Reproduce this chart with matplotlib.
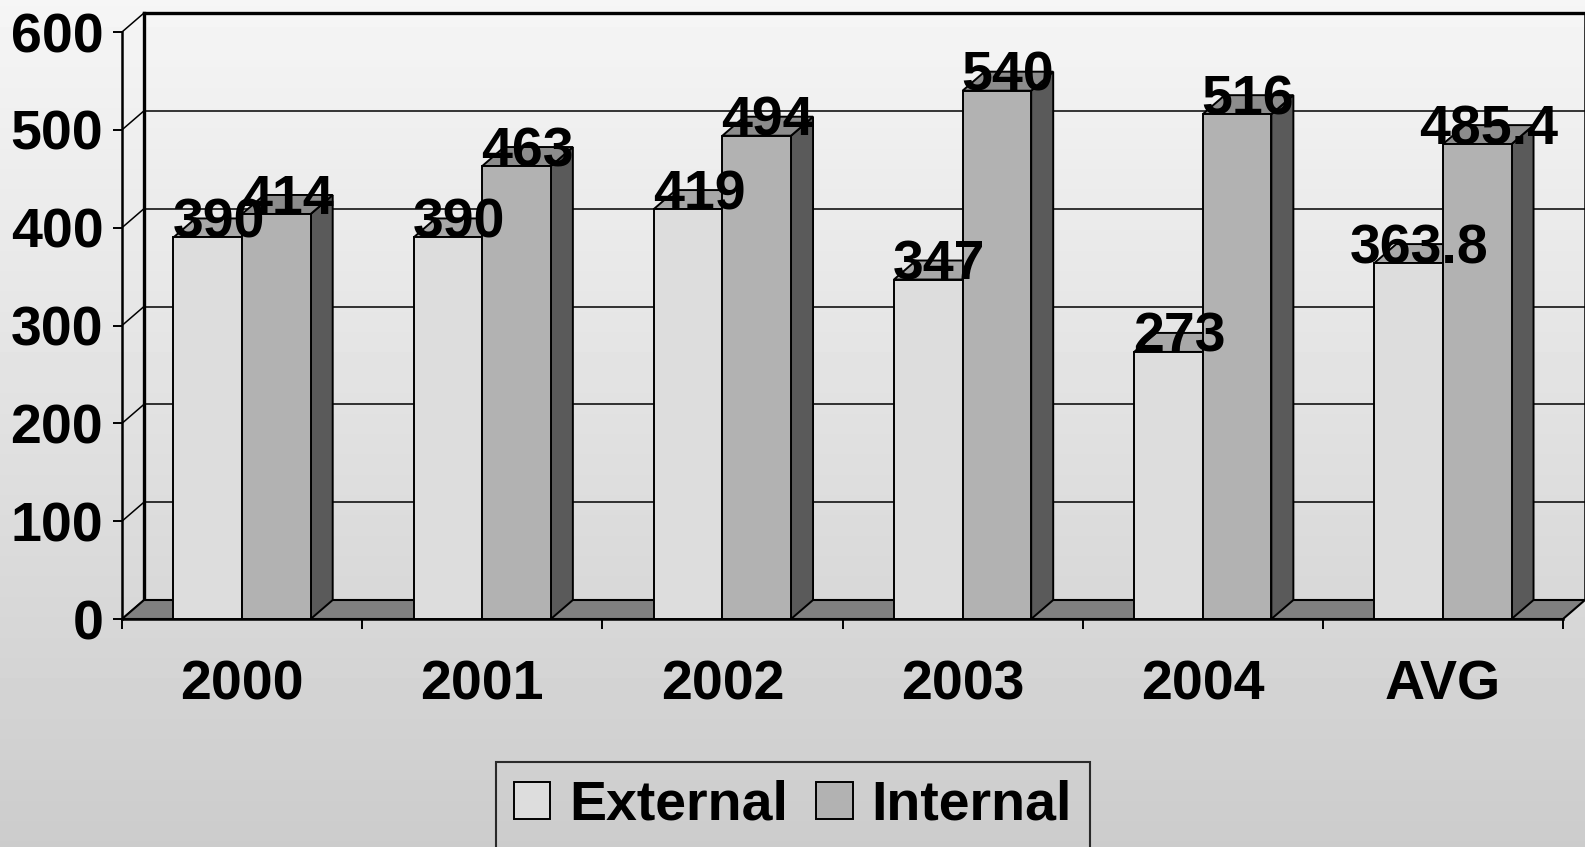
import numpy as np
import matplotlib
matplotlib.use("Agg")
import matplotlib.pyplot as plt
from matplotlib.patches import Polygon, Patch

# ---------------- data ----------------
categories = ["2000", "2001", "2002", "2003", "2004", "AVG"]
external = [390, 390, 419, 347, 273, 363.8]
internal = [414, 463, 494, 540, 516, 485.4]
series_names = ["External", "Internal"]
y_ticks = [0, 100, 200, 300, 400, 500, 600]

# ---------------- style ----------------
plt.rcParams['font.family'] = ['Liberation Sans', 'DejaVu Sans']
plt.rcParams['font.weight'] = 'bold'
FS = 40
front_cols = ['#dddddd', '#b2b2b2']
top_cols = ['#a8a8a8', '#8c8c8c']
side_cols = ['#6e6e6e', '#5a5a5a']

W, H = 1585, 847
fig = plt.figure(figsize=(W / 100, H / 100), dpi=100)

# background gradient
bg = fig.add_axes([0, 0, 1, 1], zorder=-10)
grad = np.linspace(0.962, 0.800, 256).reshape(-1, 1)
bg.imshow(grad, aspect='auto', cmap='gray', vmin=0, vmax=1,
          extent=[0, 1, 0, 1], origin='upper', interpolation='bilinear')
bg.axis('off')

# layout (pixels)
X0, X1 = 122, 1563          # front plane left/right
Y0, YTOP = 619, 32          # front plane y of 0 and 600
DXP, DYP = 22, 19           # depth offset
ncat = len(categories)
ymax = y_ticks[-1]
px_cat = (X1 - X0) / ncat
px_val = (Y0 - YTOP) / ymax
DX = DXP / px_cat
DY = DYP / px_val

ax = fig.add_axes([X0 / W, (H - Y0) / H, (X1 + DXP - X0) / W, (Y0 - YTOP + DYP) / H])
ax.set_xlim(0, ncat + DX)
ax.set_ylim(0, ymax + DY)
ax.patch.set_visible(False)
for s in ax.spines.values():
    s.set_visible(False)

lw_grid = 1.1
lw_axis = 1.8
lw_wall = 2.4
# back wall gridlines + left wall diagonals
for v in y_ticks:
    ax.plot([DX, ncat + DX], [v + DY, v + DY], color='black',
            lw=(lw_wall if v == ymax else lw_grid), zorder=1, clip_on=False,
            solid_capstyle='projecting')
    ax.plot([0, DX], [v, v + DY], color='black', lw=lw_grid, zorder=1, clip_on=False)
# back wall edges
ax.plot([DX, DX], [DY, ymax + DY], color='black', lw=lw_wall, zorder=1, clip_on=False)
ax.plot([ncat + DX, ncat + DX], [DY, ymax + DY], color='black', lw=lw_grid, zorder=1, clip_on=False)
# front vertical axis
ax.plot([0, 0], [0, ymax], color='black', lw=lw_axis, zorder=1, clip_on=False)

# floor
ax.add_patch(Polygon([(0, 0), (ncat, 0), (ncat + DX, DY), (DX, DY)],
                     closed=True, fc='#808080', ec='black', lw=1.5, zorder=2,
                     clip_on=False))

# bars
gap = 1.5
bw = 1.0 / (2 + gap)
z = 3
for i in range(ncat):
    for j, vals in enumerate([external, internal]):
        v = vals[i]
        x0 = i + 0.5 - bw + j * bw
        x1 = x0 + bw
        ax.add_patch(Polygon([(x1, 0), (x1 + DX, DY), (x1 + DX, v + DY), (x1, v)],
                             closed=True, fc=side_cols[j], ec='black', lw=1.4,
                             zorder=z, clip_on=False))
        ax.add_patch(Polygon([(x0, v), (x1, v), (x1 + DX, v + DY), (x0 + DX, v + DY)],
                             closed=True, fc=top_cols[j], ec='black', lw=1.4,
                             zorder=z, clip_on=False))
        ax.bar(x0, v, width=bw, align='edge', color=front_cols[j],
               edgecolor='black', linewidth=1.4, zorder=z + 0.5, clip_on=False)
        z += 1

# bottom front axis line
ax.plot([0, ncat], [0, 0], color='black', lw=lw_axis, zorder=z + 1, clip_on=False)

# data labels
for i in range(ncat):
    for j, vals in enumerate([external, internal]):
        v = vals[i]
        xc = i + 0.5 - bw + j * bw + bw / 2 + DX / 2
        ax.text(xc, v, f"{v:g}", ha='center', va='baseline', fontsize=FS,
                fontweight='bold', color='black', zorder=100, clip_on=False)

# ticks
ax.set_yticks(y_ticks)
ax.set_yticklabels([str(t) for t in y_ticks])
ax.tick_params(axis='y', which='major', length=6.5, width=1.4, pad=7,
               labelsize=FS, direction='out', color='black')
ax.set_xticks(np.arange(ncat + 1))
ax.set_xticklabels([''] * (ncat + 1))
ax.set_xticks(np.arange(ncat) + 0.5, minor=True)
ax.set_xticklabels(categories, minor=True)
ax.tick_params(axis='x', which='major', length=7.2, width=1.4, direction='out')
ax.tick_params(axis='x', which='minor', length=0, pad=29, labelsize=FS)
for lab in ax.get_xticklabels(minor=True) + ax.get_yticklabels():
    lab.set_fontweight('bold')

# legend
handles = [Patch(facecolor=c, edgecolor='black', linewidth=1.4) for c in front_cols]
leg = fig.legend(handles, series_names, loc='upper left',
                 bbox_to_anchor=(496 / W, 1 - 762 / H), ncol=2, frameon=True,
                 fancybox=False, fontsize=FS, handlelength=0.66, handleheight=0.66,
                 handletextpad=0.34, columnspacing=0.5, borderpad=0.32,
                 borderaxespad=0)
fr = leg.get_frame()
fr.set_edgecolor('black')
fr.set_facecolor('none')
fr.set_linewidth(1.5)
for t in leg.get_texts():
    t.set_fontweight('bold')

fig.savefig('out.png', dpi=100)
